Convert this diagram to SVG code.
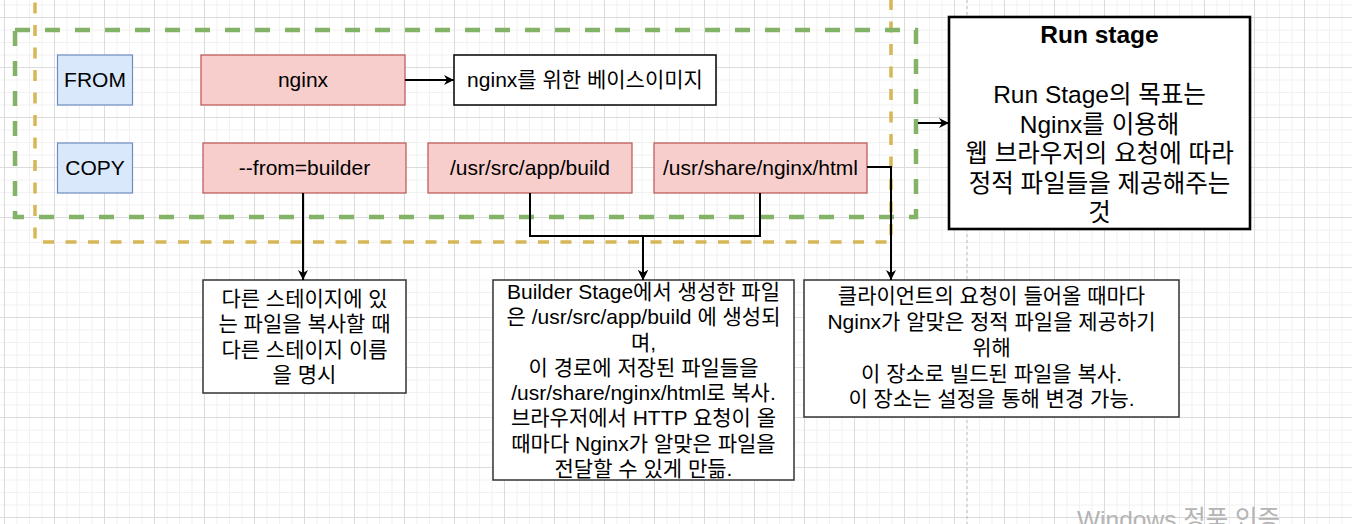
<svg xmlns="http://www.w3.org/2000/svg" width="1352" height="524" viewBox="0 0 1352 524">
<defs>
<pattern id="grid" x="4" y="17" width="50" height="50" patternUnits="userSpaceOnUse">
<path d="M13,0 V50 M25.5,0 V50 M38,0 V50 M0,13 H50 M0,25.5 H50 M0,38 H50" stroke="#f1f1f1" stroke-width="1" fill="none"/>
<path d="M0.5,0 V50 M0,0.5 H50" stroke="#dcdcdc" stroke-width="1" fill="none"/>
</pattern>
<marker id="arrow" markerUnits="userSpaceOnUse" viewBox="0 0 10 10" markerWidth="10" markerHeight="11" refX="10" refY="5" orient="auto">
<path d="M0,0 L10,5 L0,10 L3,5 z" fill="#000"/>
</marker>
<style>
text{font-family:'Liberation Sans','Noto Sans CJK KR',sans-serif;font-size:21px;fill:#000;text-anchor:middle}
.blue{fill:#dae8fc;stroke:#6c8ebf;stroke-width:1.2}
.red{fill:#f8cecc;stroke:#b85450;stroke-width:1.2}
.note{fill:#fff;stroke:#333;stroke-width:1.5}
.edge{fill:none;stroke:#000;stroke-width:2}
.big{font-size:24.5px}
</style>
</defs>
<rect width="1352" height="524" fill="#fff"/>
<rect width="1352" height="524" fill="url(#grid)"/>
<line x1="967" y1="0" x2="967" y2="524" stroke="#bdbdbd" stroke-width="1" stroke-dasharray="3 3"/>

<g id="yellow-group">
<path d="M35,-20 V242 H891 V-20" fill="none" stroke="#d6b656" stroke-width="3.5" stroke-dasharray="11 11.5"/>
</g>
<g id="green-group">
<rect x="15" y="30" width="901" height="187" fill="none" stroke="#82b366" stroke-width="4.5" stroke-dasharray="15 15"/>
</g>

<g id="from">
<rect class="blue" x="57.5" y="55" width="75" height="50"/>
<text x="95" y="87.4">FROM</text>
</g>
<g id="copy">
<rect class="blue" x="57.5" y="143" width="75" height="50"/>
<text x="95" y="175.4">COPY</text>
</g>
<g id="nginx">
<rect class="red" x="201" y="55" width="204" height="50"/>
<text x="303" y="87.4">nginx</text>
</g>
<g id="base-image">
<rect x="454" y="55" width="262" height="50" fill="#fff" stroke="#000" stroke-width="1.5"/>
<text x="585" y="87.4">nginx를 위한 베이스이미지</text>
</g>
<g id="from-builder">
<rect class="red" x="203" y="143" width="203" height="50"/>
<text x="304.5" y="175.4">--from=builder</text>
</g>
<g id="src-build">
<rect class="red" x="428" y="143" width="204" height="50"/>
<text x="530" y="175.4">/usr/src/app/build</text>
</g>
<g id="share-html">
<rect class="red" x="654" y="143" width="213" height="50"/>
<text x="760.5" y="175.4">/usr/share/nginx/html</text>
</g>
<g id="run-stage">
<rect x="949" y="17" width="301" height="212" fill="#fff" stroke="#000" stroke-width="2.6"/>
<text class="big" x="1099.5" y="43" font-weight="bold">Run stage</text>
<text class="big" x="1099.5" y="103.4">Run Stage의 목표는</text>
<text class="big" x="1099.5" y="132.9">Nginx를 이용해</text>
<text class="big" x="1099.5" y="162.4">웹 브라우저의 요청에 따라</text>
<text class="big" x="1099.5" y="191.9">정적 파일들을 제공해주는</text>
<text class="big" x="1099.5" y="221.4">것</text>
</g>
<g id="note-from">
<rect class="note" x="203" y="280" width="203" height="113"/>
<text x="304.5" y="306">다른 스테이지에 있</text>
<text x="304.5" y="331.3">는 파일을 복사할 때</text>
<text x="304.5" y="356.5">다른 스테이지 이름</text>
<text x="304.5" y="381.7">을 명시</text>
</g>
<g id="note-build">
<rect class="note" x="493" y="280" width="301" height="200"/>
<text x="643.5" y="298.9">Builder Stage에서 생성한 파일</text>
<text x="643.5" y="324.2">은 /usr/src/app/build 에 생성되</text>
<text x="643.5" y="349.5">며,</text>
<text x="643.5" y="374.8">이 경로에 저장된 파일들을</text>
<text x="643.5" y="400.1">/usr/share/nginx/html로 복사.</text>
<text x="643.5" y="425.4">브라우저에서 HTTP 요청이 올</text>
<text x="643.5" y="450.7">때마다 Nginx가 알맞은 파일을</text>
<text x="643.5" y="476">전달할 수 있게 만듦.</text>
</g>
<g id="note-html">
<rect class="note" x="804" y="280" width="375" height="137"/>
<text x="991.5" y="303.4">클라이언트의 요청이 들어올 때마다</text>
<text x="991.5" y="329.1">Nginx가 알맞은 정적 파일을 제공하기</text>
<text x="991.5" y="354.8">위해</text>
<text x="991.5" y="380.5">이 장소로 빌드된 파일을 복사.</text>
<text x="991.5" y="406.2">이 장소는 설정을 통해 변경 가능.</text>
</g>

<g id="connectors">
<path class="edge" d="M405,80 H454" marker-end="url(#arrow)"/>
<path class="edge" d="M303,193 V280" marker-end="url(#arrow)"/>
<path class="edge" d="M530,193 V236 H643 V280" marker-end="url(#arrow)"/>
<path class="edge" d="M760,193 V236 H643 V280" marker-end="url(#arrow)"/>
<path class="edge" d="M867,167 H891 V280" marker-end="url(#arrow)"/>
<path class="edge" d="M918,123 H949" marker-end="url(#arrow)"/>
</g>

<g id="watermark">
<text x="1077" y="528" style="text-anchor:start;font-size:24.5px;fill:#b4b4b4">Windows 정품 인증</text>
</g>
</svg>
